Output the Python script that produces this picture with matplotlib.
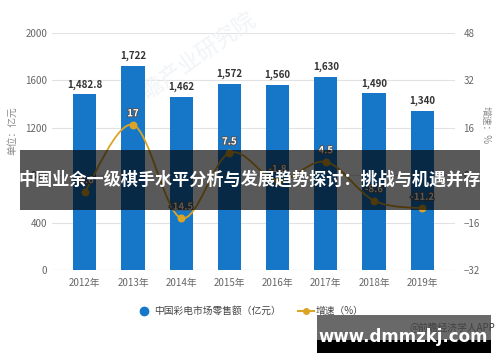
"""
Recreate the retail sales / growth combo chart
"""
import matplotlib
matplotlib.use('Agg')
import matplotlib.pyplot as plt
import matplotlib.patheffects as pe
from matplotlib.path import Path
from matplotlib.patches import PathPatch, Rectangle
import numpy as np

plt.rcParams['font.family'] = ['Noto Sans CJK SC', 'DejaVu Sans']

years = ['2012年', '2013年', '2014年', '2015年', '2016年', '2017年', '2018年', '2019年']
sales = [1482.8, 1722, 1462, 1572, 1560, 1630, 1490, 1340]
sales_labels = ['1,482.8', '1,722', '1,462', '1,572', '1,560', '1,630', '1,490', '1,340']
growth = [-5.6, 17, -14.5, 7.5, -1.8, 4.5, -8.6, -11.2]
growth_labels = ['-5.6', '17', '-14.5', '7.5', '-1.8', '4.5', '-8.6', '-11.2']
left_ticks = [0, 400, 800, 1200, 1600, 2000]
right_ticks = [-32, -16, 0, 16, 32, 48]

bar_color = '#1677c8'
line_color = '#dca424'
text_gray = '#666666'

fig = plt.figure(figsize=(5, 3.62), dpi=100)
ax = fig.add_axes([0.104, 0.254, 0.806, 0.655])
x = np.arange(len(years))

# grid lines first
for t in left_ticks:
    ax.axhline(t, color='#e2e2e2', linewidth=0.8, zorder=0)

# faint watermark behind the bars
ax.text(2.2, 1750, '前瞻产业研究院', rotation=35, ha='center', va='center',
        fontsize=16, color='#f1f4f7', zorder=1)

ax.bar(x, sales, width=0.48, color=bar_color, zorder=2)
for xi, v, lab in zip(x, sales, sales_labels):
    ax.text(xi, v + 40, lab, ha='center', va='bottom', fontsize=7,
            fontweight='bold', color='#333333', zorder=5)

ax.set_xlim(-0.5 - 0.18, len(years) - 0.5 + 0.18)
ax.set_ylim(0, 2000)
ax.set_yticks(left_ticks)
ax.set_xticks(x)
ax.set_xticklabels(years)
ax.tick_params(axis='both', length=0, labelsize=7, colors=text_gray)
ax.tick_params(axis='x', pad=6)
for s in ax.spines.values():
    s.set_visible(False)
ax.axhline(0, color='#cccccc', linewidth=0.8, zorder=1)

ax2 = ax.twinx()
ax2.set_ylim(-32, 48)
ax2.set_yticks(right_ticks)
ax2.tick_params(axis='y', length=0, labelsize=7, colors=text_gray, pad=6)
for s in ax2.spines.values():
    s.set_visible(False)

# smooth curve through the growth points (Catmull-Rom as bezier segments)
pts = np.column_stack([x, growth]).astype(float)
verts = [tuple(pts[0])]
codes = [Path.MOVETO]
for i in range(len(pts) - 1):
    p0 = pts[i - 1] if i > 0 else pts[i]
    p1 = pts[i]
    p2 = pts[i + 1]
    p3 = pts[i + 2] if i + 2 < len(pts) else pts[i + 1]
    c1 = p1 + (p2 - p0) / 6
    c2 = p2 - (p3 - p1) / 6
    verts += [tuple(c1), tuple(c2), tuple(p2)]
    codes += [Path.CURVE4] * 3
ax2.add_patch(PathPatch(Path(verts, codes), facecolor='none',
                        edgecolor=line_color, linewidth=1.3, zorder=3))
ax2.scatter(x, growth, s=22, color=line_color, zorder=4)
for xi, v, lab in zip(x, growth, growth_labels):
    ax2.text(xi, v + 2.2, lab, ha='center', va='bottom', fontsize=7,
             fontweight='bold', color='white', zorder=5,
             path_effects=[pe.withStroke(linewidth=1.5, foreground='#555555')])

fig.text(0.025, 0.64, '单位：亿元', rotation=90, ha='center', va='center',
         fontsize=7, color='#888888')
fig.text(0.972, 0.655, '增速：%', rotation=-90, ha='center', va='center',
         fontsize=7, color='#888888')

# legend
fig.lines.append(plt.Line2D([0.287], [0.141], marker='o', markersize=6,
                            color=bar_color, linestyle='none',
                            transform=fig.transFigure))
fig.text(0.308, 0.141, '中国彩电市场零售额（亿元）', ha='left', va='center',
         fontsize=7, color='#444444')
fig.lines.append(plt.Line2D([0.596, 0.628], [0.141, 0.141], color=line_color,
                            linewidth=1.5, transform=fig.transFigure))
fig.lines.append(plt.Line2D([0.612], [0.141], color=line_color, marker='o',
                            markersize=4, transform=fig.transFigure))
fig.text(0.632, 0.141, '增速（%）', ha='left', va='center', fontsize=7,
         color='#444444')

# banner overlay
fig.patches.append(Rectangle((0.04, 0.42), 0.92, 0.166, transform=fig.transFigure,
                             facecolor='black', alpha=0.65, zorder=10))
fig.text(0.5, 0.503, '中国业余一级棋手水平分析与发展趋势探讨：挑战与机遇并存',
         ha='center', va='center', fontsize=12.3, fontweight='bold',
         color='white', zorder=11)

# bottom right site box
fig.text(0.99, 0.094, '@前瞻经济学人APP', ha='right', va='center', fontsize=7,
         color='#333333', zorder=9)
fig.patches.append(Rectangle((0.634, 0.061), 0.348, 0.07, transform=fig.transFigure,
                             facecolor='#444444', alpha=0.8, zorder=10))
fig.patches.append(Rectangle((0.634, 0.025), 0.348, 0.036, transform=fig.transFigure,
                             facecolor='black', zorder=10))
fig.text(0.806, 0.068, 'www.dmmzkj.com', ha='center', va='center', fontsize=12,
         fontweight='bold', color='white', family=['DejaVu Sans'], zorder=11)

fig.savefig('out.png', dpi=100)
